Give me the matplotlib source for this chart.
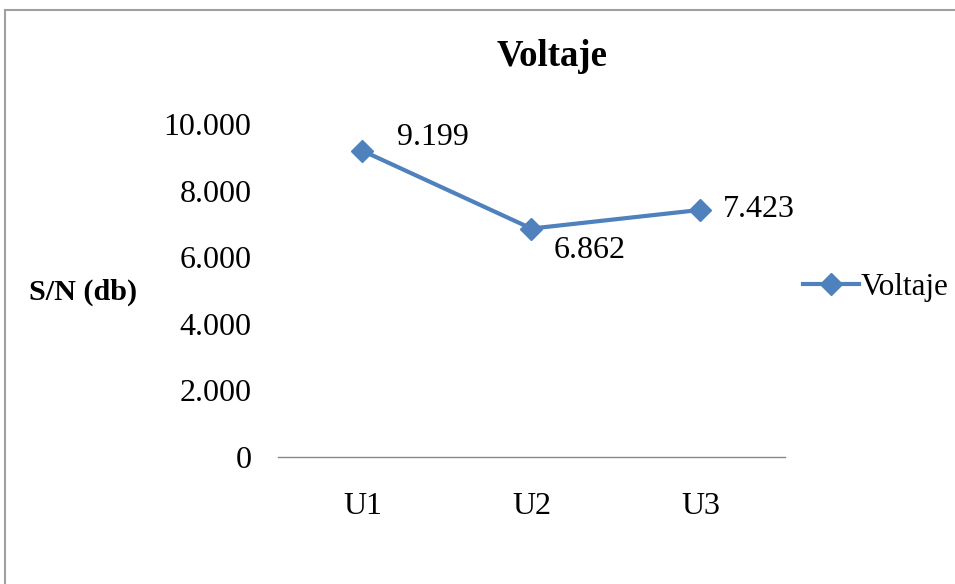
import matplotlib.pyplot as plt
from matplotlib.patches import Rectangle
from matplotlib.ticker import FuncFormatter

categorias = ['U1', 'U2', 'U3']
voltaje = [9199, 6862, 7423]
etiquetas = ['9.199', '6.862', '7.423']
offsets = [(25, 9.5), (16, -16), (16, 0)]  # posicion de las etiquetas (pt)

plt.rcParams['font.family'] = ['Liberation Serif', 'DejaVu Serif']

fig = plt.figure(figsize=(9.55, 5.84), dpi=100)
ax = fig.add_axes([0.291, 0.2175, 0.531, 0.570])

x = range(len(categorias))
ax.plot(x, voltaje, color='#4F81BD', lw=3, marker='D', markersize=11, label='Voltaje')

for i, (v, t, off) in enumerate(zip(voltaje, etiquetas, offsets)):
    ax.annotate(t, (i, v), xytext=off, textcoords='offset points',
                ha='left', va='center', fontsize=23)

ax.set_xlim(-0.5, len(categorias) - 0.5)
ax.set_ylim(0, 10000)
ax.set_yticks(range(0, 10001, 2000))
ax.yaxis.set_major_formatter(FuncFormatter(lambda v, p: f'{int(v):,}'.replace(',', '.')))
ax.set_xticks(list(x))
ax.set_xticklabels(categorias)
ax.tick_params(axis='y', length=0, pad=19, labelsize=23)
ax.tick_params(axis='x', length=0, pad=25, labelsize=23)

for s in ['top', 'right', 'left']:
    ax.spines[s].set_visible(False)
ax.spines['bottom'].set_color('#888888')
ax.spines['bottom'].set_linewidth(1)

fig.text(0.578, 0.904, 'Voltaje', ha='center', va='center', fontsize=26.5, fontweight='bold')
fig.text(0.087, 0.5, 'S/N (db)', ha='center', va='center', fontsize=21.7, fontweight='bold')

fig.legend(loc='center left', bbox_to_anchor=(803 / 955, 1 - 287 / 584), frameon=False,
           fontsize=22.5, handlelength=1.8, handletextpad=0.05, borderpad=0, borderaxespad=0)

# marco del grafico
fig.patches.append(Rectangle((5 / 955, -0.1), 1.2, 1 - 10 / 584 + 0.1, transform=fig.transFigure,
                             fill=False, edgecolor='#A0A0A0', lw=1.5))

plt.savefig('out.png', dpi=100)
